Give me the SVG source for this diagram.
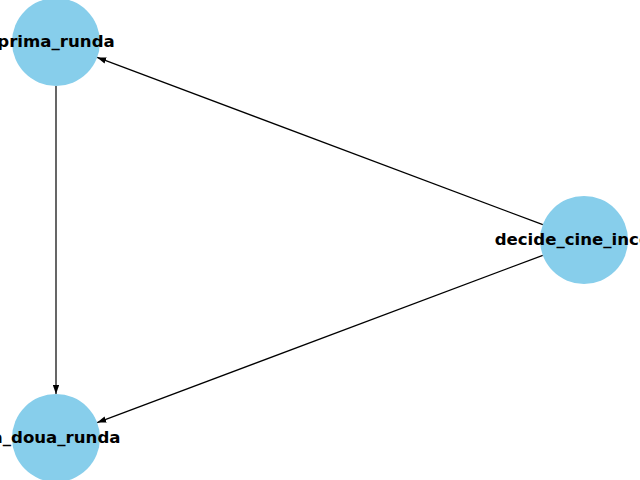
<svg xmlns="http://www.w3.org/2000/svg" width="640" height="480" viewBox="0 0 640 480">
<style>
.node{fill:#87CEEB;stroke:none}
.lbl{font-family:"DejaVu Sans",sans-serif;font-weight:bold;font-size:16.6px;fill:#000;text-anchor:middle;dominant-baseline:central}
.edge{stroke:#000;stroke-width:1.2;fill:none;marker-end:url(#arr)}
</style>
<defs>
<marker id="arr" viewBox="0 0 10 7" refX="10" refY="3.5" markerWidth="9" markerHeight="6.5" markerUnits="userSpaceOnUse" orient="auto">
<path d="M0,0 L10,3.5 L0,7 Z" fill="#000"/>
</marker>
</defs>
<rect width="640" height="480" fill="#fff"/>
<g id="edges">
<line class="edge" x1="542.8" y1="224.6" x2="97.2" y2="57.4"/>
<line class="edge" x1="542.8" y1="255.4" x2="97.2" y2="422.6"/>
<line class="edge" x1="56" y1="86" x2="56" y2="394"/>
</g>
<g id="prima_runda">
<circle class="node" cx="56" cy="42" r="44"/>
<text class="lbl" x="56" y="41">prima_runda</text>
</g>
<g id="decide_cine_incepe">
<circle class="node" cx="584" cy="240" r="44"/>
<text class="lbl" x="584" y="239">decide_cine_incepe</text>
</g>
<g id="a_doua_runda">
<circle class="node" cx="56" cy="438" r="44"/>
<text class="lbl" x="56" y="437">a_doua_runda</text>
</g>
</svg>
